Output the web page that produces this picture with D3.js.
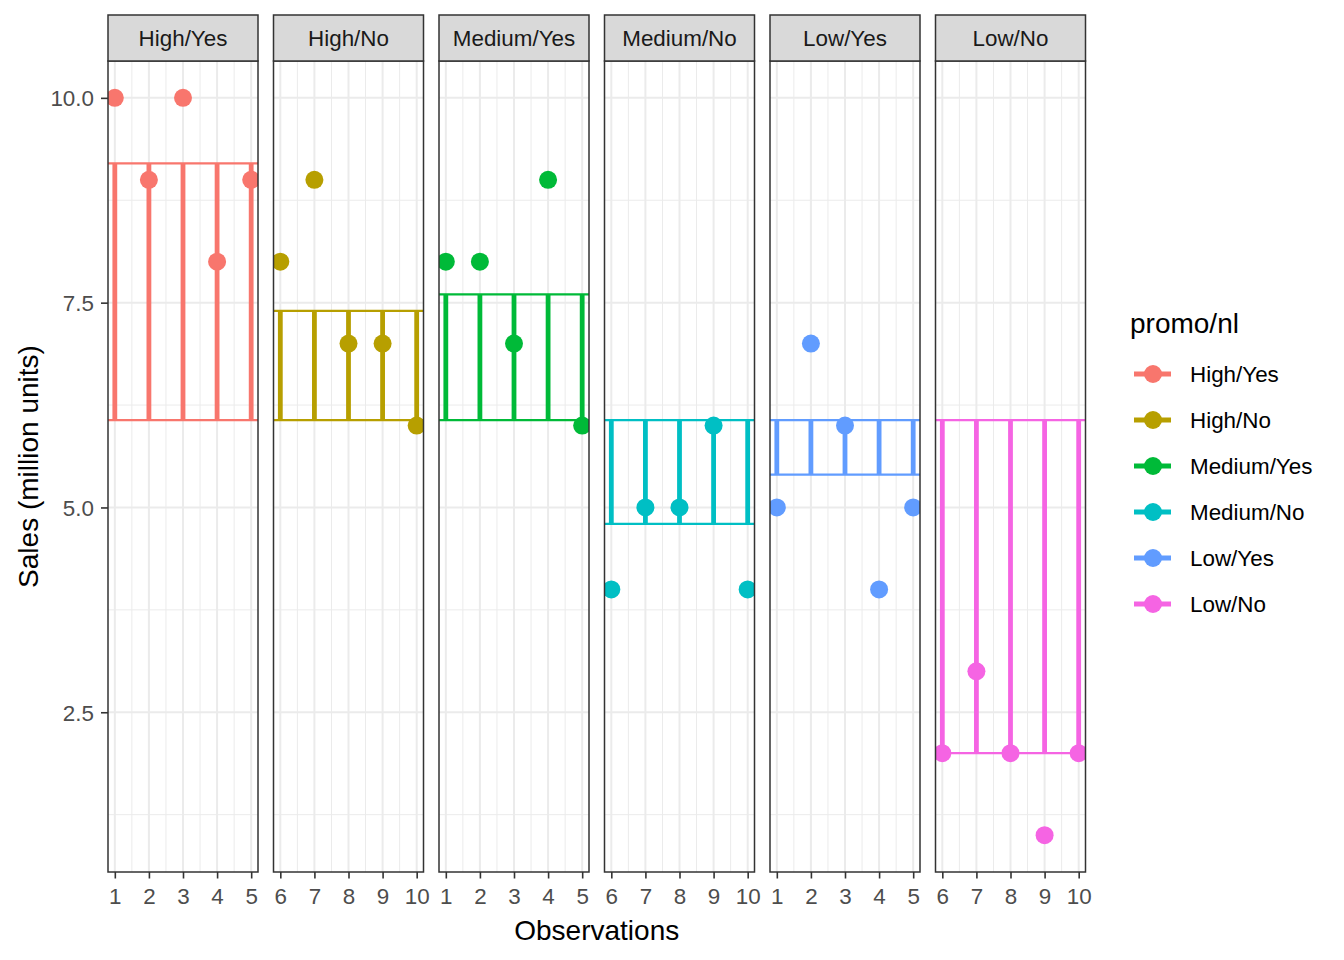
<!DOCTYPE html>
<html>
<head>
<meta charset="utf-8">
<script src="https://cdn.jsdelivr.net/npm/d3@7"></script>
<style>
  html, body { margin: 0; padding: 0; background: #ffffff; }
  svg { display: block; font-family: "Liberation Sans", Arial, sans-serif; }
</style>
</head>
<body>
<svg id="chart" width="1344" height="960"></svg>
<script>
// ---- data ----
const groups = ["High/Yes", "High/No", "Medium/Yes", "Medium/No", "Low/Yes", "Low/No"];
const colors = ["#F8766D", "#B79F00", "#00BA38", "#00BFC4", "#619CFF", "#F564E3"];
const observations = [
  [1, 2, 3, 4, 5],
  [6, 7, 8, 9, 10],
  [1, 2, 3, 4, 5],
  [6, 7, 8, 9, 10],
  [1, 2, 3, 4, 5],
  [6, 7, 8, 9, 10]
];
const sales = [
  [10, 9, 10, 8, 9],
  [8, 9, 7, 7, 6],
  [8, 8, 7, 9, 6],
  [4, 5, 5, 6, 4],
  [5, 7, 6, 4, 5],
  [2, 3, 2, 1, 2]
];
const yTicks = [2.5, 5.0, 7.5, 10.0];
const yMinor = [1.25, 3.75, 6.25, 8.75];

const allVals = sales.flat();
const grandMean = d3.mean(allVals);
const groupMeans = sales.map(s => d3.mean(s));

// ---- layout ----
const svg = d3.select("#chart");
const panelTop = 61, panelBottom = 872;
const stripTop = 15;
const panelLeft0 = 108, panelW = 150, panelGap = 15.5;
const FONT = "Liberation Sans, Arial, sans-serif";

const yMin = d3.min(allVals), yMax = d3.max(allVals);
const yExp = (yMax - yMin) * 0.05;
const y = d3.scaleLinear().domain([yMin - yExp, yMax + yExp]).range([panelBottom, panelTop]);

const gridCol = "#EBEBEB";
const borderCol = "#333333";
const tickTextCol = "#4D4D4D";

groups.forEach((g, i) => {
  const left = panelLeft0 + i * (panelW + panelGap);
  const obs = observations[i];
  const xMin = d3.min(obs), xMax = d3.max(obs);
  const xExp = (xMax - xMin) * 0.05;
  const x = d3.scaleLinear().domain([xMin - xExp, xMax + xExp]).range([left, left + panelW]);
  const gp = svg.append("g");

  const clipId = "clip" + i;
  svg.append("clipPath").attr("id", clipId).append("rect")
    .attr("x", left).attr("y", panelTop).attr("width", panelW).attr("height", panelBottom - panelTop);
  const inner = gp.append("g").attr("clip-path", `url(#${clipId})`);

  // minor grid
  const xMinorVals = d3.range(xMin - 0.5, xMax + 1, 1).filter(v => v >= x.domain()[0] && v <= x.domain()[1]);
  inner.selectAll(".xminor").data(xMinorVals).enter().append("line")
    .attr("x1", d => x(d)).attr("x2", d => x(d)).attr("y1", panelTop).attr("y2", panelBottom)
    .attr("stroke", gridCol).attr("stroke-width", 1);
  inner.selectAll(".yminor").data(yMinor).enter().append("line")
    .attr("x1", left).attr("x2", left + panelW).attr("y1", d => y(d)).attr("y2", d => y(d))
    .attr("stroke", gridCol).attr("stroke-width", 1);
  // major grid
  inner.selectAll(".xmajor").data(obs).enter().append("line")
    .attr("x1", d => x(d)).attr("x2", d => x(d)).attr("y1", panelTop).attr("y2", panelBottom)
    .attr("stroke", gridCol).attr("stroke-width", 2);
  inner.selectAll(".ymajor").data(yTicks).enter().append("line")
    .attr("x1", left).attr("x2", left + panelW).attr("y1", d => y(d)).attr("y2", d => y(d))
    .attr("stroke", gridCol).attr("stroke-width", 2);

  const col = colors[i];
  // horizontal lines: grand mean & group mean
  inner.selectAll(".hl").data([grandMean, groupMeans[i]]).enter().append("line")
    .attr("x1", left).attr("x2", left + panelW).attr("y1", d => y(d)).attr("y2", d => y(d))
    .attr("stroke", col).attr("stroke-width", 2.3);
  // segments
  inner.selectAll(".seg").data(obs).enter().append("line")
    .attr("x1", d => x(d)).attr("x2", d => x(d))
    .attr("y1", y(grandMean)).attr("y2", y(groupMeans[i]))
    .attr("stroke", col).attr("stroke-width", 4.8);
  // points
  inner.selectAll(".pt").data(obs.map((o, k) => [o, sales[i][k]])).enter().append("circle")
    .attr("cx", d => x(d[0])).attr("cy", d => y(d[1])).attr("r", 9).attr("fill", col);

  // panel border
  gp.append("rect").attr("x", left).attr("y", panelTop).attr("width", panelW).attr("height", panelBottom - panelTop)
    .attr("fill", "none").attr("stroke", borderCol).attr("stroke-width", 1.5);

  // strip
  gp.append("rect").attr("x", left).attr("y", stripTop).attr("width", panelW).attr("height", panelTop - stripTop)
    .attr("fill", "#D9D9D9").attr("stroke", borderCol).attr("stroke-width", 1.5);
  gp.append("text").attr("x", left + panelW / 2).attr("y", (stripTop + panelTop) / 2 + 8)
    .attr("text-anchor", "middle").attr("font-size", 22.4).attr("fill", "#1A1A1A").text(g);

  // x axis
  const xAxis = d3.axisBottom(x).tickValues(obs).tickFormat(d3.format("d")).tickSize(6.5).tickPadding(0);
  const ax = svg.append("g").attr("transform", `translate(0,${panelBottom})`).call(xAxis);
  ax.attr("font-size", null).attr("font-family", null);
  ax.select(".domain").remove();
  ax.selectAll(".tick line").attr("stroke", borderCol).attr("stroke-width", 1.6);
  ax.selectAll(".tick text").attr("font-size", 22.4).attr("fill", tickTextCol)
    .attr("font-family", FONT).attr("dy", null).attr("y", 32);
});

// y axis
const yAxis = d3.axisLeft(y).tickValues(yTicks).tickFormat(d3.format(".1f")).tickSize(7).tickPadding(7);
const ay = svg.append("g").attr("transform", `translate(${panelLeft0},0)`).call(yAxis);
ay.attr("font-size", null).attr("font-family", null);
ay.select(".domain").remove();
ay.selectAll(".tick line").attr("stroke", borderCol).attr("stroke-width", 1.6);
ay.selectAll(".tick text").attr("font-size", 22.4).attr("fill", tickTextCol)
  .attr("font-family", FONT).attr("dy", "0.36em");

// axis titles
const plotRight = panelLeft0 + 6 * panelW + 5 * panelGap;
svg.append("text").attr("x", (panelLeft0 + plotRight) / 2).attr("y", 940)
  .attr("text-anchor", "middle").attr("font-size", 28).attr("fill", "#000").text("Observations");
svg.append("text").attr("transform", `translate(38,${(panelTop + panelBottom) / 2}) rotate(-90)`)
  .attr("text-anchor", "middle").attr("font-size", 28).attr("fill", "#000").text("Sales (million units)");

// legend
const lg = svg.append("g");
lg.append("text").attr("x", 1130).attr("y", 333).attr("font-size", 28).attr("fill", "#000").text("promo/nl");
groups.forEach((g, i) => {
  const cy = 374 + i * 46;
  lg.append("line").attr("x1", 1134).attr("x2", 1171).attr("y1", cy).attr("y2", cy)
    .attr("stroke", colors[i]).attr("stroke-width", 4.8);
  lg.append("circle").attr("cx", 1153).attr("cy", cy).attr("r", 9).attr("fill", colors[i]);
  lg.append("text").attr("x", 1190).attr("y", cy + 8).attr("font-size", 22.4).attr("fill", "#000").text(g);
});
</script>
</body>
</html>
